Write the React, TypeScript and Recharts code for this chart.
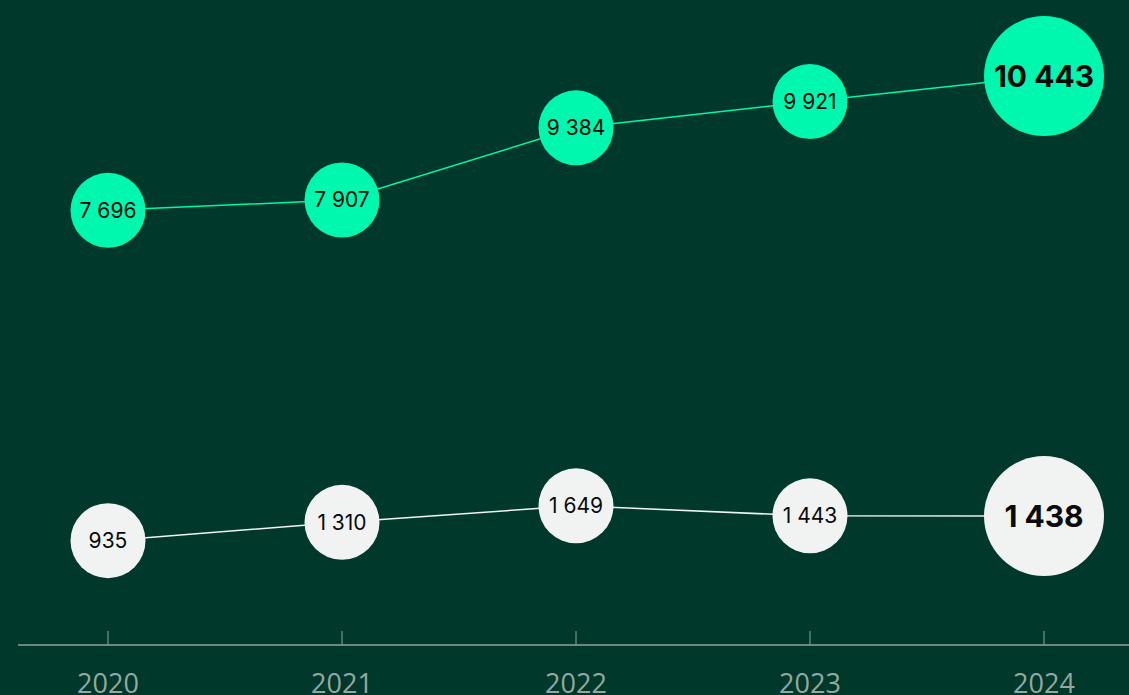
import { LineChart, Line, XAxis, YAxis } from 'recharts';

const years = ['2020', '2021', '2022', '2023', '2024'];
const upperValues = [7696, 7907, 9384, 9921, 10443];
const lowerValues = [935, 1310, 1649, 1443, 1438];

const data = years.map((year, i) => ({ year, upper: upperValues[i], lower: lowerValues[i] }));

const BG = '#00382B';
const GREEN = '#00F7AE';
const WHITE = '#F1F3F2';

const fmt = (v: number) => String(v).replace(/\B(?=(\d{3})+(?!\d))/g, ' ');

function makeDot(fill: string) {
  return (props: any) => {
    const { cx, cy, value, index } = props;
    const last = index === years.length - 1;
    return (
      <g key={`dot-${fill}-${index}`}>
        <circle cx={cx} cy={cy} r={last ? 60 : 37.5} fill={fill} />
        <text
          x={cx}
          y={cy}
          textAnchor="middle"
          dominantBaseline="central"
          fill="#0a0a0a"
          fontFamily="Inter, Roboto, sans-serif"
          fontSize={last ? 30 : 21}
          fontWeight={last ? 700 : 400}
        >
          {fmt(value)}
        </text>
      </g>
    );
  };
}

function YearTick(props: any) {
  const { x, y, payload } = props;
  return (
    <g>
      <line x1={x} x2={x} y1={y - 14} y2={y} stroke="#8FA29B" strokeWidth={1} />
      <text
        x={x}
        y={y + 37}
        textAnchor="middle"
        dominantBaseline="central"
        fill="#95A89F"
        fontFamily="'Open Sans', sans-serif"
        fontSize={27}
      >
        {payload.value}
      </text>
    </g>
  );
}

export default function App() {
  return (
    <div style={{ position: 'fixed', left: 0, top: 0, width: 1129, height: 695, background: BG }}>
      <LineChart width={1129} height={695} data={data} margin={{ top: 0, right: 0, bottom: 0, left: 18 }}>
        <XAxis
          dataKey="year"
          height={50}
          padding={{ left: 90, right: 85 }}
          axisLine={{ stroke: '#8FA29B', strokeWidth: 1.5 }}
          tickLine={false}
          tickSize={0}
          tickMargin={0}
          tick={<YearTick />}
          interval={0}
        />
        <YAxis hide domain={[-1200, 12000]} type="number" />
        <Line
          dataKey="upper"
          stroke={GREEN}
          strokeWidth={1.5}
          isAnimationActive={false}
          dot={makeDot(GREEN)}
          activeDot={false}
        />
        <Line
          dataKey="lower"
          stroke={WHITE}
          strokeWidth={1.5}
          isAnimationActive={false}
          dot={makeDot(WHITE)}
          activeDot={false}
        />
      </LineChart>
    </div>
  );
}
